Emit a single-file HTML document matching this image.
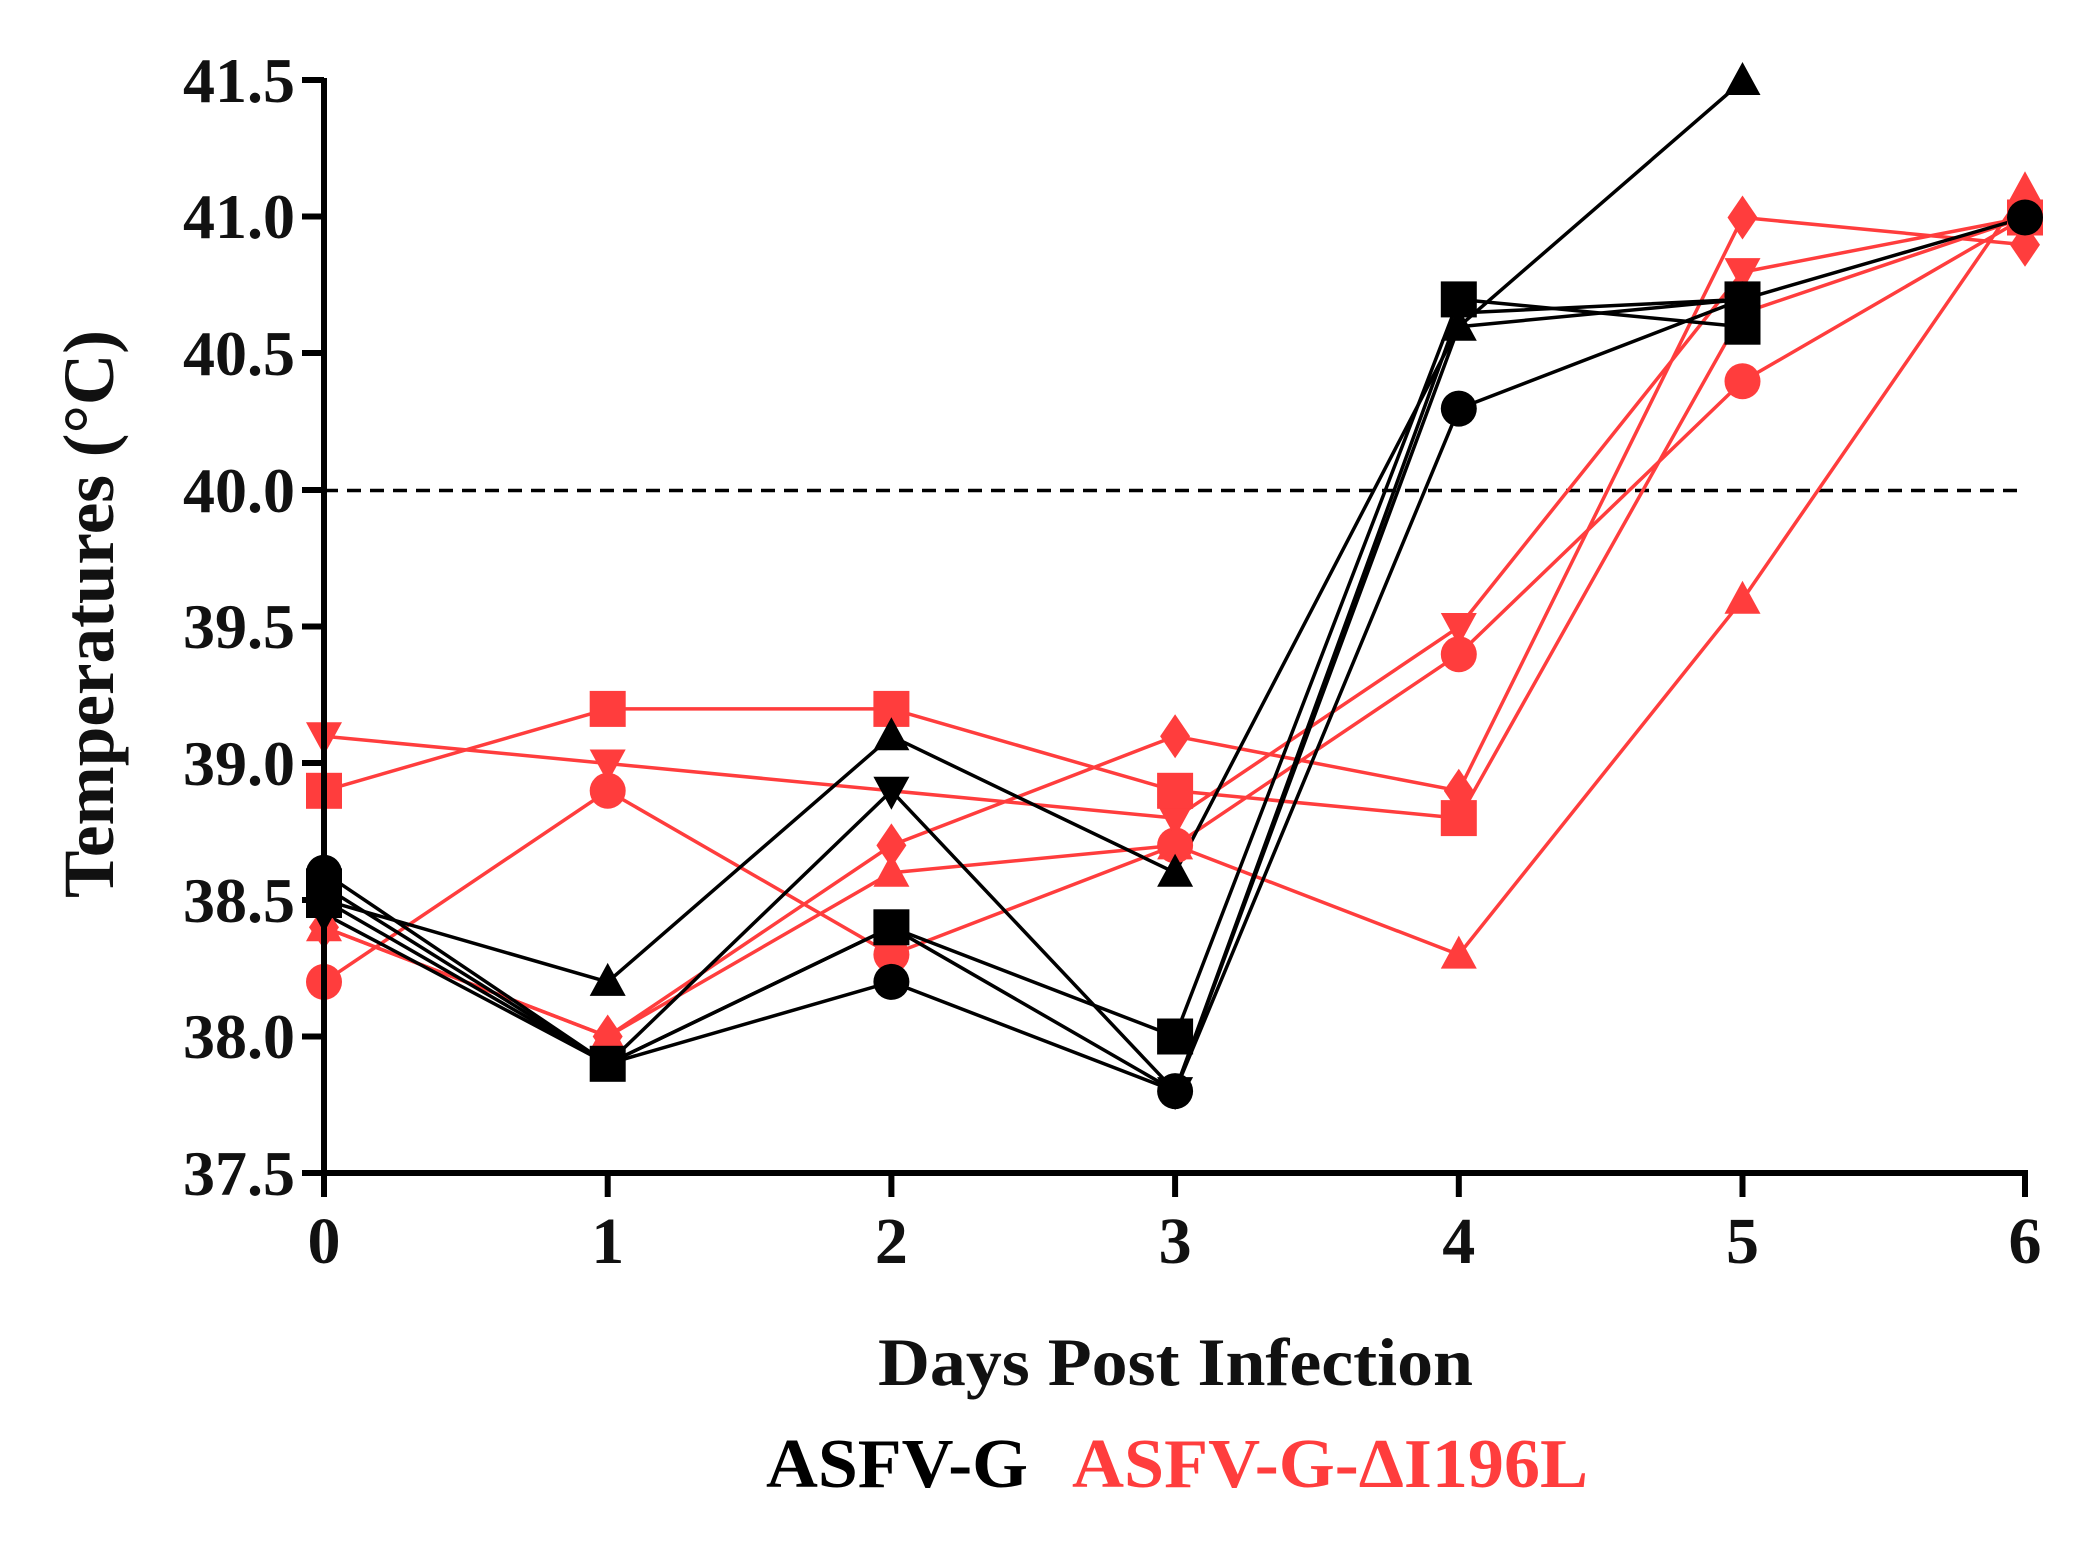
<!DOCTYPE html>
<html><head><meta charset="utf-8"><style>html,body{margin:0;padding:0;background:#fff}svg{display:block}</style></head>
<body>
<svg width="2096" height="1543" viewBox="0 0 2096 1543" xmlns="http://www.w3.org/2000/svg" xmlns:xlink="http://www.w3.org/1999/xlink" font-family="Liberation Serif, serif" font-weight="bold">
<defs>
<circle id="ci" r="18"/>
<rect id="sq" x="-18" y="-18" width="36" height="36"/>
<polygon id="tr" points="0,-19 18,14 -18,14"/>
<polygon id="it" points="0,19 18,-14 -18,-14"/>
<polygon id="di" points="0,-22 15,0 0,22 -15,0"/>
</defs>
<line x1="324" y1="490.5" x2="2025" y2="490.5" stroke="#000" stroke-width="3.5" stroke-dasharray="14,9"/>

<g fill="none" stroke-width="3.5" stroke-linejoin="round">
<g stroke="#ff3d3d">
<polyline points="324,927.3 607.7,1036.5 891.4,872.7 1175.1,845.4 1458.8,954.6 1742.5,599.7 2025,190.2"/>
<polyline points="324,927.3 607.7,1036.5 891.4,845.4 1175.1,736.2 1458.8,790.8 1742.5,217.5 2025,244.8"/>
<polyline points="324,981.9 607.7,790.8 891.4,954.6 1175.1,845.4 1458.8,654.3 1742.5,381.3 2025,217.5"/>
<polyline points="324,736.2 607.7,763.5 1175.1,818.1 1458.8,627 1742.5,272.1 2025,217.5"/>
<polyline points="324,790.8 607.7,708.9 891.4,708.9 1175.1,790.8 1458.8,818.1 1742.5,313.05 2025,217.5"/>
</g>
<g stroke="#000">
<polyline points="324,886.35 607.7,1063.8 891.4,927.3 1175.1,1036.5 1458.8,299.4 1742.5,326.7"/>
<polyline points="324,913.65 607.7,1063.8 891.4,790.8 1175.1,1091.1 1458.8,326.7 1742.5,299.4"/>
<polyline points="324,900 607.7,981.9 891.4,736.2 1175.1,872.7 1458.8,326.7 1742.5,81"/>
<polyline points="324,900 607.7,1063.8 891.4,927.3 1175.1,1091.1 1458.8,313.05 1742.5,299.4"/>
<polyline points="324,872.7 607.7,1063.8 891.4,981.9 1175.1,1091.1 1458.8,408.6 1742.5,299.4 2025,217.5"/>
</g>
</g>

<g fill="#ff3d3d">
<use xlink:href="#tr" href="#tr" x="324" y="927.3"/><use xlink:href="#tr" href="#tr" x="607.7" y="1036.5"/><use xlink:href="#tr" href="#tr" x="891.4" y="872.7"/><use xlink:href="#tr" href="#tr" x="1175.1" y="845.4"/><use xlink:href="#tr" href="#tr" x="1458.8" y="954.6"/><use xlink:href="#tr" href="#tr" x="1742.5" y="599.7"/><use xlink:href="#tr" href="#tr" x="2025" y="190.2"/>
<use xlink:href="#di" href="#di" x="324" y="927.3"/><use xlink:href="#di" href="#di" x="607.7" y="1036.5"/><use xlink:href="#di" href="#di" x="891.4" y="845.4"/><use xlink:href="#di" href="#di" x="1175.1" y="736.2"/><use xlink:href="#di" href="#di" x="1458.8" y="790.8"/><use xlink:href="#di" href="#di" x="1742.5" y="217.5"/><use xlink:href="#di" href="#di" x="2025" y="244.8"/>
<use xlink:href="#ci" href="#ci" x="324" y="981.9"/><use xlink:href="#ci" href="#ci" x="607.7" y="790.8"/><use xlink:href="#ci" href="#ci" x="891.4" y="954.6"/><use xlink:href="#ci" href="#ci" x="1175.1" y="845.4"/><use xlink:href="#ci" href="#ci" x="1458.8" y="654.3"/><use xlink:href="#ci" href="#ci" x="1742.5" y="381.3"/>
<use xlink:href="#it" href="#it" x="324" y="736.2"/><use xlink:href="#it" href="#it" x="607.7" y="763.5"/><use xlink:href="#it" href="#it" x="1175.1" y="818.1"/><use xlink:href="#it" href="#it" x="1458.8" y="627"/><use xlink:href="#it" href="#it" x="1742.5" y="272.1"/>
<use xlink:href="#sq" href="#sq" x="324" y="790.8"/><use xlink:href="#sq" href="#sq" x="607.7" y="708.9"/><use xlink:href="#sq" href="#sq" x="891.4" y="708.9"/><use xlink:href="#sq" href="#sq" x="1175.1" y="790.8"/><use xlink:href="#sq" href="#sq" x="1458.8" y="818.1"/><use xlink:href="#sq" href="#sq" x="2025" y="217.5"/>
</g>
<g fill="#000">
<use xlink:href="#sq" href="#sq" x="324" y="886.35"/><use xlink:href="#sq" href="#sq" x="607.7" y="1063.8"/><use xlink:href="#sq" href="#sq" x="891.4" y="927.3"/><use xlink:href="#sq" href="#sq" x="1175.1" y="1036.5"/><use xlink:href="#sq" href="#sq" x="1458.8" y="299.4"/><use xlink:href="#sq" href="#sq" x="1742.5" y="326.7"/>
<use xlink:href="#it" href="#it" x="324" y="913.65"/><use xlink:href="#it" href="#it" x="891.4" y="790.8"/><use xlink:href="#it" href="#it" x="1175.1" y="1091.1"/>
<use xlink:href="#tr" href="#tr" x="324" y="900"/><use xlink:href="#tr" href="#tr" x="607.7" y="981.9"/><use xlink:href="#tr" href="#tr" x="891.4" y="736.2"/><use xlink:href="#tr" href="#tr" x="1175.1" y="872.7"/><use xlink:href="#tr" href="#tr" x="1458.8" y="326.7"/><use xlink:href="#tr" href="#tr" x="1742.5" y="81"/>
<use xlink:href="#sq" href="#sq" x="324" y="900"/><use xlink:href="#sq" href="#sq" x="1742.5" y="299.4"/>
<use xlink:href="#ci" href="#ci" x="324" y="872.7"/><use xlink:href="#ci" href="#ci" x="891.4" y="981.9"/><use xlink:href="#ci" href="#ci" x="1175.1" y="1091.1"/><use xlink:href="#ci" href="#ci" x="1458.8" y="408.6"/><use xlink:href="#ci" href="#ci" x="1742.5" y="299.4"/><use xlink:href="#ci" href="#ci" x="2025" y="217.5"/>
</g>

<g stroke="#000" stroke-width="6" fill="none">
<line x1="324" y1="78" x2="324" y2="1197"/>
<line x1="321" y1="1173" x2="2028" y2="1173"/>
<line x1="302" y1="80" x2="324" y2="80"/>
<line x1="302" y1="216.5" x2="324" y2="216.5"/>
<line x1="302" y1="353" x2="324" y2="353"/>
<line x1="302" y1="490" x2="324" y2="490"/>
<line x1="302" y1="626.5" x2="324" y2="626.5"/>
<line x1="302" y1="763" x2="324" y2="763"/>
<line x1="302" y1="900" x2="324" y2="900"/>
<line x1="302" y1="1036.5" x2="324" y2="1036.5"/>
<line x1="302" y1="1173" x2="324" y2="1173"/>
<line x1="607.7" y1="1173" x2="607.7" y2="1197"/>
<line x1="891.4" y1="1173" x2="891.4" y2="1197"/>
<line x1="1175.1" y1="1173" x2="1175.1" y2="1197"/>
<line x1="1458.8" y1="1173" x2="1458.8" y2="1197"/>
<line x1="1742.5" y1="1173" x2="1742.5" y2="1197"/>
<line x1="2025" y1="1173" x2="2025" y2="1197"/>
</g>
<g font-size="64" text-anchor="end" fill="#111">
<text x="295" y="102" textLength="112" lengthAdjust="spacingAndGlyphs">41.5</text>
<text x="295" y="238" textLength="112" lengthAdjust="spacingAndGlyphs">41.0</text>
<text x="295" y="375" textLength="112" lengthAdjust="spacingAndGlyphs">40.5</text>
<text x="295" y="512" textLength="112" lengthAdjust="spacingAndGlyphs">40.0</text>
<text x="295" y="648" textLength="112" lengthAdjust="spacingAndGlyphs">39.5</text>
<text x="295" y="785" textLength="112" lengthAdjust="spacingAndGlyphs">39.0</text>
<text x="295" y="922" textLength="112" lengthAdjust="spacingAndGlyphs">38.5</text>
<text x="295" y="1058" textLength="112" lengthAdjust="spacingAndGlyphs">38.0</text>
<text x="295" y="1195" textLength="112" lengthAdjust="spacingAndGlyphs">37.5</text>
</g>
<g font-size="66" text-anchor="middle" fill="#111">
<text x="324" y="1263">0</text><text x="607.7" y="1263">1</text><text x="891.4" y="1263">2</text><text x="1175.1" y="1263">3</text><text x="1458.8" y="1263">4</text><text x="1742.5" y="1263">5</text><text x="2025" y="1263">6</text>
</g>
<text transform="translate(113,614) rotate(-90)" font-size="72" text-anchor="middle" textLength="568" lengthAdjust="spacingAndGlyphs" fill="#111">Temperatures (°C)</text>
<text x="878" y="1385" font-size="68" textLength="595" lengthAdjust="spacingAndGlyphs" fill="#111">Days Post Infection</text>
<text x="766" y="1487" font-size="70" textLength="262" lengthAdjust="spacingAndGlyphs" fill="#000">ASFV-G</text>
<text x="1072" y="1487" font-size="70" textLength="516" lengthAdjust="spacingAndGlyphs" fill="#ff3d3d">ASFV-G-ΔI196L</text>
</svg>
</body></html>
